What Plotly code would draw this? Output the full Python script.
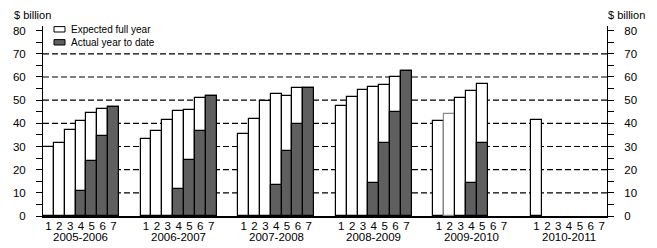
import plotly.graph_objects as go

years = ["2005-2006", "2006-2007", "2007-2008", "2008-2009", "2009-2010", "2010-2011"]
positions = [1, 2, 3, 4, 5, 6, 7]

expected = [
    [29.8, 31.3, 37.0, 41.2, 44.3, 46.2, 46.9],
    [33.1, 36.5, 41.4, 45.3, 45.7, 50.8, 51.7],
    [35.2, 41.8, 49.8, 52.5, 51.7, 55.1, 55.1],
    [47.5, 51.2, 54.4, 55.6, 56.4, 60.2, 62.5],
    [41.0, 43.9, 50.8, 54.0, 56.9, None, None],
    [41.4, None, None, None, None, None, None],
]
actual = [
    [None, None, None, 10.9, 23.9, 34.4, 46.9],
    [None, None, None, 11.8, 24.3, 36.6, 51.7],
    [None, None, None, 13.2, 27.9, 39.8, 55.1],
    [None, None, None, 14.4, 31.7, 44.7, 62.5],
    [None, None, None, 14.4, 31.3, None, None],
    [None, None, None, None, None, None, None],
]
# bars with lighter (grey) outline in the reference
grey_outline = {(4, 2)}

grid_values = [10, 20, 30, 40, 50, 60, 70]
y_ticks = [0, 10, 20, 30, 40, 50, 60, 70, 80]
legend_labels = ["Expected full year", "Actual year to date"]
legend_colors = ["white", "#5f5f5f"]

GAP = 2
W, H = 657, 248
L, R, T, B = 43, 50, 26, 32
FONT = "Liberation Sans, Arial, sans-serif"

xs, exp_y, act_y, line_cols, tick_text = [], [], [], [], []
for gi, yr in enumerate(years):
    for pi, p in enumerate(positions):
        x = gi * (len(positions) + GAP) + pi
        xs.append(x)
        exp_y.append(expected[gi][pi])
        act_y.append(actual[gi][pi])
        line_cols.append("#8a8a8a" if (gi, p) in grey_outline else "black")
        tick_text.append(str(p))

n_slots = len(years) * (len(positions) + GAP) - GAP

fig = go.Figure()
fig.add_trace(go.Bar(x=xs, y=exp_y, width=1, name=legend_labels[0],
                     marker=dict(color=legend_colors[0], line=dict(color=line_cols, width=1.2)),
                     showlegend=False))
fig.add_trace(go.Bar(x=xs, y=act_y, width=1, name=legend_labels[1],
                     marker=dict(color=legend_colors[1], line=dict(color="black", width=1.2)),
                     showlegend=False))
# invisible trace to activate right axis
fig.add_trace(go.Scatter(x=[xs[0]], y=[0], yaxis="y2", mode="markers",
                         marker=dict(opacity=0), showlegend=False, hoverinfo="skip"))

YMAX = 82
yax = dict(range=[0, YMAX], tickvals=y_ticks, ticks="outside", ticklen=6, tickwidth=1,
           tickcolor="black", showline=True, linecolor="black", linewidth=1,
           showgrid=False, zeroline=False, tickfont=dict(family=FONT, size=11.5, color="black"),
           minor=dict(ticks="outside", dtick=5, ticklen=6, tickcolor="black", showgrid=False),
           ticklabelstandoff=8, fixedrange=True)

fig.update_layout(
    width=W, height=H, margin=dict(l=L, r=R, t=T, b=B, pad=0),
    paper_bgcolor="white", plot_bgcolor="white", barmode="overlay", bargap=0,
    font=dict(family=FONT, size=11, color="black"),
    xaxis=dict(range=[-0.5, n_slots - 0.5], tickvals=xs, ticktext=tick_text, ticks="",
               showline=True, linecolor="black", linewidth=1.5, showgrid=False, zeroline=False,
               tickfont=dict(family=FONT, size=11.5, color="black"), ticklabelstandoff=-2),
    yaxis=dict(side="left", **yax),
    yaxis2=dict(side="right", overlaying="y", **yax),
)

for g in grid_values:
    fig.add_shape(type="line", xref="paper", yref="y", x0=0, x1=1, y0=g, y1=g,
                  line=dict(color="black", width=1.2, dash="6px,3px"), layer="below")

for gi, yr in enumerate(years):
    cx = gi * (len(positions) + GAP) + (len(positions) - 1) / 2
    fig.add_annotation(x=cx, xref="x", y=0, yref="paper", yshift=-21, text=yr,
                       showarrow=False, font=dict(family=FONT, size=11.5), yanchor="middle")

# axis unit labels
fig.add_annotation(x=0, xref="paper", y=1, yref="paper", xshift=-31, yshift=11,
                   text="$ billion", showarrow=False, xanchor="left", yanchor="middle",
                   font=dict(family=FONT, size=11))
fig.add_annotation(x=1, xref="paper", y=1, yref="paper", xshift=-1, yshift=11,
                   text="$ billion", showarrow=False, xanchor="left", yanchor="middle",
                   font=dict(family=FONT, size=11))

# legend (manual, compact): one two-line text block + swatches
pw = W - L - R
ph = H - T - B
def px_x(px):
    return (px - L) / pw
def px_y(py):
    return (H - B - py) / ph

LEG_FONT = 10
line_h = LEG_FONT * 1.3
center = 35.8
first = center - line_h / 2
for i, col in enumerate(legend_colors):
    cy = first + i * line_h
    fig.add_shape(type="rect", xref="paper", yref="paper", x0=px_x(54), x1=px_x(65),
                  y0=px_y(cy + 2.7), y1=px_y(cy - 2.7), fillcolor=col,
                  line=dict(color="black", width=1))
fig.add_annotation(x=px_x(70), xref="paper", y=px_y(center), yref="paper",
                   text="<br>".join(legend_labels), showarrow=False, align="left",
                   xanchor="left", yanchor="middle", borderpad=0,
                   font=dict(family=FONT, size=LEG_FONT))

fig.write_html("out.html")
